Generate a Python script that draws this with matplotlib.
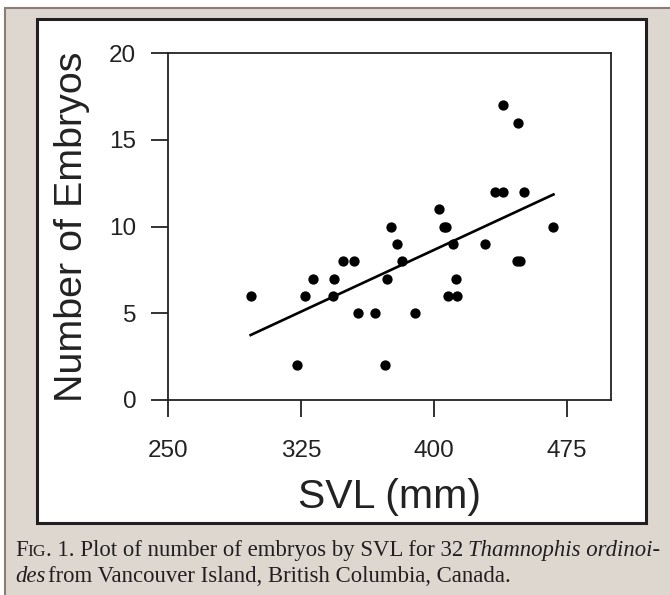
import matplotlib
matplotlib.use("Agg")
import matplotlib.pyplot as plt
from matplotlib.patches import Rectangle
import numpy as np

# ---- data ----
svl = [296.5, 322.4, 327.3, 331.8, 343.2, 343.8, 348.6, 354.8, 357.4, 366.8,
       372.3, 373.4, 375.8, 379.0, 381.8, 389.3, 402.6, 405.5, 406.8, 410.7,
       407.7, 412.6, 413.3, 429.1, 434.3, 439.0, 439.0, 447.6, 447.0, 448.6,
       451.0, 467.5]
embryos = [6, 2, 6, 7, 6, 7, 8, 8, 5, 5,
           2, 7, 10, 9, 8, 5, 11, 10, 10, 9,
           6, 7, 6, 9, 12, 12, 17, 16, 8, 8,
           12, 10]
x_ticks = [250, 325, 400, 475]
y_ticks = [0, 5, 10, 15, 20]
x_label = "SVL (mm)"
y_label = "Number of Embryos"

W, H = 670, 595
fig = plt.figure(figsize=(W / 100, H / 100), dpi=100, facecolor="white")

def px_rect(x0, y0, x1, y1, **kw):
    r = Rectangle((x0 / W, 1 - y1 / H), (x1 - x0) / W, (y1 - y0) / H,
                  transform=fig.transFigure, zorder=-5, **kw)
    fig.patches.append(r)
    return r

# outer beige background with brown border
px_rect(4.5, 8, W + 60, H + 60, facecolor="#ddd7d0", edgecolor="#8c7c73", linewidth=1.5)
# white panel
px_rect(37, 19, 646, 523, facecolor="white", edgecolor="#231f20", linewidth=2.2)

# axes
left, right, top, bottom = 168.3, 611, 53.3, 400
ax = fig.add_axes([left / W, 1 - bottom / H, (right - left) / W, (bottom - top) / H])
ax.set_zorder(5)
ax.set_facecolor("none")
ax.set_xlim(250, 500)
ax.set_ylim(0, 20)
ax.set_xticks(x_ticks)
ax.set_yticks(y_ticks)
for s in ax.spines.values():
    s.set_linewidth(1.3)
    s.set_color("#222222")
ax.tick_params(direction="out", length=12, width=1.3, color="#222222",
               labelsize=17.5, labelcolor="#222222")
ax.tick_params(axis="x", pad=17)
ax.tick_params(axis="y", pad=11)
for lab in ax.get_xticklabels() + ax.get_yticklabels():
    lab.set_family("Liberation Sans")

ax.plot(svl, embryos, "o", color="black", markersize=6.4, zorder=3)

coef = np.polyfit(svl, embryos, 1)
xs = np.array([min(svl), max(svl)])
ax.plot(xs, np.polyval(coef, xs), color="black", linewidth=1.9, zorder=2)

ax.set_xlabel(x_label, fontsize=29.5, family="Liberation Sans", color="#222222", labelpad=11)
ax.set_ylabel(y_label, fontsize=28.4, family="Liberation Sans", color="#222222", labelpad=14)

# caption with small caps
fig.canvas.draw()
renderer = fig.canvas.get_renderer()

def place_pieces(pieces, x_px, y_base_px):
    x = x_px
    for txt, size, style, gap in pieces:
        x += gap
        t = fig.text(x / W, 1 - y_base_px / H, txt, fontsize=size, style=style,
                     family="Liberation Serif", color="#231f20", va="baseline", ha="left")
        bb = t.get_window_extent(renderer)
        x += bb.width

cap = 16.4
sc = 12.6
place_pieces([("F", cap, "normal", 0), ("IG", sc, "normal", 0),
              (". 1. Plot of number of embryos by SVL for 32", cap, "normal", 0),
              ("Thamnophis ordinoi-", cap, "italic", 5)], 15, 556)
place_pieces([("des", cap, "italic", 0),
              ("from Vancouver Island, British Columbia, Canada.", cap, "normal", 3)], 15, 581.7)

fig.savefig("out.png", dpi=100, facecolor=fig.get_facecolor())
